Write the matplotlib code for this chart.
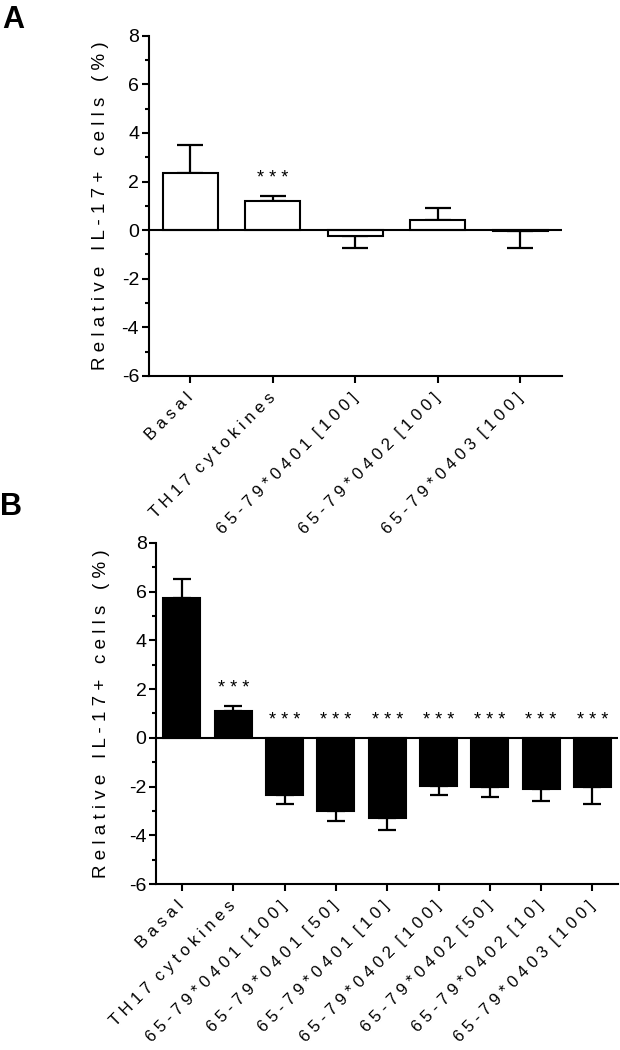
import matplotlib.pyplot as plt
import numpy as np

plt.rcParams['font.family'] = ['Liberation Sans', 'DejaVu Sans']
plt.rcParams['axes.unicode_minus'] = False

# panel A
labels_a = ['Basal', 'TH17 cytokines', '65-79*0401 [100]', '65-79*0402 [100]', '65-79*0403 [100]']
mean_a = [2.33, 1.19, -0.25, 0.40, -0.03]
err_a = [1.17, 0.22, 0.49, 0.49, 0.70]
stars_a = ['', '***', '', '', '']

# panel B
labels_b = ['Basal', 'TH17 cytokines', '65-79*0401 [100]', '65-79*0401 [50]', '65-79*0401 [10]',
            '65-79*0402 [100]', '65-79*0402 [50]', '65-79*0402 [10]', '65-79*0403 [100]']
mean_b = [5.72, 1.12, -2.36, -3.00, -3.28, -1.99, -2.03, -2.08, -2.03]
err_b = [0.80, 0.20, 0.34, 0.42, 0.50, 0.34, 0.40, 0.52, 0.67]
stars_b = ['', '***', '***', '***', '***', '***', '***', '***', '***']

ylabel = 'Relative IL-17+ cells (%)'


def spaced(s, gap='  '):
    # the original figure uses wide letter spacing
    return gap.join(' '.join(w) for w in s.split(' '))


def panel(ax, labels, mean, err, stars, fill, width, capsize):
    x = np.arange(len(labels))
    mean = np.array(mean)
    err = np.array(err)
    lo = np.where(mean <= 0, err, 0)
    hi = np.where(mean > 0, err, 0)
    ax.bar(x, mean, width=width, color=fill, edgecolor='black', linewidth=1.5, zorder=2)
    ax.errorbar(x, mean, yerr=[lo, hi], fmt='none', ecolor='black', elinewidth=1.6,
                capsize=capsize, capthick=1.6, zorder=1)
    for xi, m, e, s in zip(x, mean, err, stars):
        if s:
            y = m + e + 0.7 if m > 0.5 else 0.7
            ax.text(xi, y, ' '.join(s), ha='center', va='center', fontsize=13)
    ax.axhline(0, color='black', lw=1.5, zorder=3)
    ax.set_xlim(-0.5, len(labels) - 0.5)
    ax.set_ylim(-6, 8)
    ax.set_yticks(np.arange(-6, 9, 2))
    ax.set_yticks(np.arange(-5, 8, 2), minor=True)
    ax.set_xticks(x)
    ax.set_xticklabels([spaced(l) for l in labels], rotation=45, ha='right', va='center',
                       rotation_mode='anchor', fontsize=12)
    ax.tick_params(axis='x', length=5, width=1.5, pad=9)
    ax.tick_params(axis='y', which='major', length=5, width=1.5, labelsize=14, pad=2)
    ax.tick_params(axis='y', which='minor', length=3, width=1.5)
    for side in ['top', 'right']:
        ax.spines[side].set_visible(False)
    for side in ['left', 'bottom']:
        ax.spines[side].set_linewidth(1.5)
    ax.set_ylabel(spaced(ylabel, '   '), fontsize=13.5)
    ax.yaxis.set_label_coords(-0.118, 0.5)
    ax.yaxis.label.set_verticalalignment('center')


fig = plt.figure(figsize=(6.2, 10.5), dpi=100)
ax_a = fig.add_axes([0.240, 0.642, 0.666, 0.324])
ax_b = fig.add_axes([0.252, 0.158, 0.745, 0.325])

panel(ax_a, labels_a, mean_a, err_a, stars_a, 'white', 0.665, 9.5)
panel(ax_b, labels_b, mean_b, err_b, stars_b, 'black', 0.72, 6.5)

fig.text(0.003, 0.995, 'A', fontsize=22, fontweight='bold', va='top', ha='left')
fig.text(0.000, 0.531, 'B', fontsize=22, fontweight='bold', va='top', ha='left')

fig.savefig('out.png', dpi=100)
